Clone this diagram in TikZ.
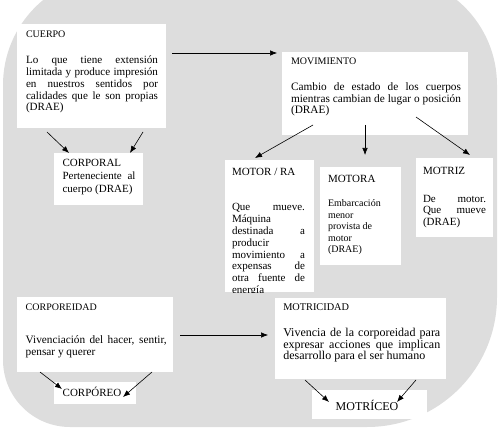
\documentclass[tikz,border=0pt]{standalone}
\usepackage{fontspec}
\setmainfont{Liberation Serif}
\usetikzlibrary{arrows.meta,calc}
\newcommand\jl[2]{{\spaceskip=0pt\xspaceskip=0pt\makebox[#1][s]{#2}}}
\newcommand\fsz[2]{\fontsize{#1}{#2}\selectfont}
\definecolor{bggray}{RGB}{221,221,221}
\begin{document}
\begin{tikzpicture}[x=1pt,y=-1pt,
  box/.style={fill=white,inner sep=0pt,outer sep=0pt,anchor=north west},
  txt/.style={anchor=base west,inner sep=0pt,outer sep=0pt,align=justify},
  conn/.style={line width=0.6pt,-{Latex[length=7pt,width=5.5pt]}}]
\useasboundingbox (0,0) rectangle (500,430);
\clip (0,0) rectangle (500,430);
\fill[bggray] (3,85) .. controls (3,24.2) and (52.2,-25) .. (113,-25) -- (387,-25)
  .. controls (447.8,-25) and (497,24.2) .. (497,85) -- (497,297)
  .. controls (497,368.8) and (438.8,427) .. (367,427) -- (70,427)
  .. controls (33,427) and (3,397) .. (3,360) -- cycle;
% boxes
\node[box,minimum width=149pt,minimum height=104pt] (cuerpo) at (17,24) {};
\node[box,minimum width=186pt,minimum height=83pt] (movimiento) at (282,52) {};
\node[box,minimum width=89pt,minimum height=52pt] (corporal) at (54,153) {};
\node[box,minimum width=89pt,minimum height=132pt] (motorra) at (225,160) {};
\node[box,minimum width=81pt,minimum height=98pt] (motora) at (320,167) {};
\node[box,minimum width=77pt,minimum height=79pt] (motriz) at (416,158) {};
\node[box,minimum width=156pt,minimum height=75pt] (corporeidad) at (17,297) {};
\node[box,minimum width=171pt,minimum height=81pt] (motricidad) at (275,298) {};
\node[box,minimum width=82pt,minimum height=22pt] (corporeo) at (54,382) {};
\node[box,minimum width=115pt,minimum height=29pt] (motriceo) at (312,390) {};
% texts
\node[txt,font=\fsz{10}{12}] (cuerpoT) at (26,37.5) {CUERPO};
\node[txt,text width=132pt,font=\fsz{11.1}{11.75}] (cuerpoB) at (26,64) {\jl{132pt}{Lo que tiene extensión}\\\jl{132pt}{limitada y produce impresión}\\\jl{132pt}{en nuestros sentidos por}\\\jl{132pt}{calidades que le son propias}\\(DRAE)};
\node[txt,font=\fsz{10}{12}] (movT) at (291,65) {MOVIMIENTO};
\node[txt,text width=170pt,font=\fsz{11.3}{11.7}] (movB) at (291,90.5) {\jl{170pt}{Cambio de estado de los cuerpos}\\\jl{170pt}{mientras cambian de lugar o posición}\\(DRAE)};
\node[txt,text width=73pt,font=\fsz{11}{13}] (corporalT) at (62.5,167) {CORPORAL\\\jl{73pt}{Perteneciente al}\\cuerpo (DRAE)};
\begin{scope}
\clip (motorra.north west) rectangle (motorra.south east);
\node[txt,font=\fsz{11}{12}] (motorraT) at (232,175.5) {MOTOR / RA};
\node[txt,text width=73pt,font=\fsz{11}{11.8}] (motorraB) at (232,211) {\jl{73pt}{Que mueve.}\\Máquina\\\jl{73pt}{destinada a}\\producir\\\jl{73pt}{movimiento a}\\\jl{73pt}{expensas de}\\\jl{73pt}{otra fuente de}\\energía};
\end{scope}
\node[txt,font=\fsz{11}{12}] (motoraT) at (328,182.7) {MOTORA};
\node[txt,text width=60pt,font=\fsz{10}{11.5}] (motoraB) at (328,206.7) {Embarcación\\menor\\provista de\\motor\\(DRAE)};
\node[txt,font=\fsz{11}{12}] (motrizT) at (423,175) {MOTRIZ};
\node[txt,text width=63pt,font=\fsz{11}{11.3}] (motrizB) at (423,202.7) {\jl{63pt}{De motor.}\\\jl{63pt}{Que mueve}\\(DRAE)};
\node[txt,font=\fsz{10}{12}] (corporeidadT) at (25.7,310) {CORPOREIDAD};
\node[txt,text width=141pt,font=\fsz{11.3}{12}] (corporeidadB) at (25.7,343.3) {\jl{141pt}{Vivenciación del hacer, sentir,}\\pensar y querer};
\node[txt,font=\fsz{10.3}{12}] (motricidadT) at (283.3,310.7) {MOTRICIDAD};
\node[txt,text width=157pt,font=\fsz{12}{11.3}] (motricidadB) at (283.3,336.7) {\jl{157pt}{Vivencia de la corporeidad para}\\\jl{157pt}{expresar acciones que implican}\\desarrollo para el ser humano};
\node[txt,font=\fsz{11}{12}] (corporeoT) at (62.7,396.7) {CORPÓREO};
\node[txt,font=\fsz{12}{12}] (motriceoT) at (335.7,410.7) {MOTRÍCEO};
% connectors
\draw[conn] ($(cuerpo.north east)+(6,29)$) -- ($(movimiento.north west)+(-5,1)$);
\draw[conn] ($(cuerpo.south west)+(30,4)$) -- ($(corporal.north west)+(15,0)$);
\draw[conn] ($(cuerpo.south east)+(-23,4)$) -- ($(corporal.north east)+(-13,0)$);
\draw[conn] ($(movimiento.south west)+(31,-10)$) -- ($(motorra.north west)+(30,-2)$);
\draw[conn] ($(movimiento.south west)+(83,-10)$) -- ($(motora.north west)+(45,-12)$);
\draw[conn] ($(movimiento.south east)+(-52,-18)$) -- ($(motriz.north west)+(54,-3)$);
\draw[conn] ($(corporeidad.north east)+(7,38)$) -- ($(motricidad.north west)+(-7,37)$);
\draw[conn] ($(corporeidad.south west)+(23,0)$) -- ($(corporeo.north west)+(8,7)$);
\draw[conn] ($(corporeidad.south east)+(-21,0)$) -- ($(corporeo.north east)+(-13,15)$);
\draw[conn] ($(motricidad.south west)+(30,1)$) -- ($(motriceo.north west)+(17,12)$);
\draw[conn] ($(motricidad.south east)+(-30,1)$) -- ($(motriceo.north east)+(-30,12)$);
\end{tikzpicture}
\end{document}
